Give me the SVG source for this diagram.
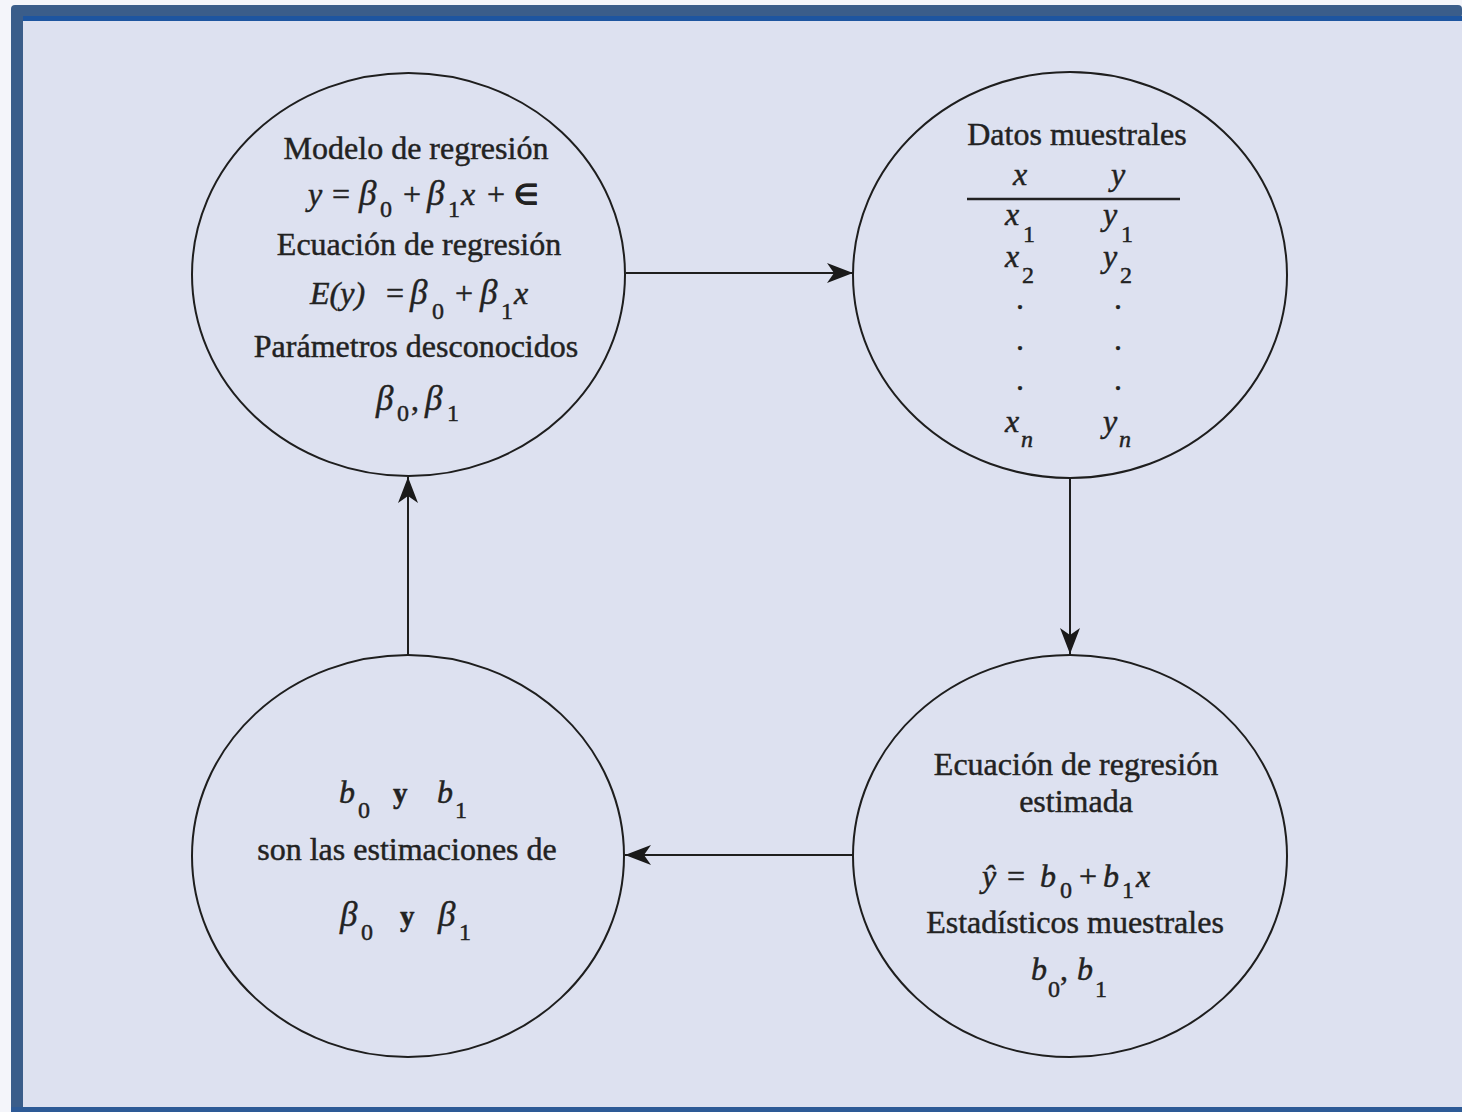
<svg xmlns="http://www.w3.org/2000/svg" width="1462" height="1112" viewBox="0 0 1462 1112">
<defs>
<marker id="arr" markerUnits="userSpaceOnUse" markerWidth="28" markerHeight="22" refX="26" refY="10" orient="auto">
<path d="M0,0 L26,10 L0,20 L7,10 z" fill="#1a1a1a"/>
</marker>
<style>
.t{font-family:"Liberation Serif","Times New Roman",serif;font-size:32px;fill:#222;stroke:#222;stroke-width:0.45px;}
.c{text-anchor:middle;}
.i{font-style:italic;}
.g{font-style:italic;font-size:35px;}
.s{font-size:24px;font-style:normal;}
.si{font-size:24px;font-style:italic;}
.b{font-weight:bold;}
.node{fill:none;stroke:#1e1e1e;stroke-width:2;}
.conn{stroke:#1e1e1e;stroke-width:2;fill:none;marker-end:url(#arr);}
</style>
</defs>
<rect x="0" y="0" width="1462" height="1112" fill="#f4f5fa"/>
<rect x="22" y="21" width="1440" height="1086" fill="#dde1f0"/>
<rect x="11" y="5" width="1451" height="13" rx="4" fill="#3a5d8a"/>
<rect x="20" y="16" width="1442" height="5" fill="#1d55a0"/>
<rect x="11" y="10" width="12" height="1102" fill="#3a5d8a"/>
<rect x="11" y="1107" width="1451" height="5" fill="#2d5a96"/>

<g id="connectors">
<line class="conn" x1="626" y1="273" x2="853" y2="273"/>
<line class="conn" x1="1070" y1="478" x2="1070" y2="654"/>
<line class="conn" x1="853" y1="855" x2="625" y2="855"/>
<line class="conn" x1="408" y1="655" x2="408" y2="477"/>
</g>

<g id="modelo">
<ellipse class="node" cx="408.5" cy="274.5" rx="216.5" ry="201.5"/>
<text class="t c" x="416" y="159">Modelo de regresión</text>
<text class="t i" x="308" y="205">y</text>
<text class="t" x="332" y="205">=</text>
<text class="t g" x="359" y="205">β</text>
<text class="t s" x="380" y="217">0</text>
<text class="t" x="403" y="205">+</text>
<text class="t g" x="427" y="205">β</text>
<text class="t s" x="448" y="217">1</text>
<text class="t i" x="461" y="205">x</text>
<text class="t" x="487" y="205">+</text>
<text class="t b" x="514" y="204" style="font-size:28px">∈</text>
<text class="t c" x="419" y="255">Ecuación de regresión</text>
<text class="t i" x="310" y="304">E(y)</text>
<text class="t" x="386" y="304">=</text>
<text class="t g" x="410" y="304">β</text>
<text class="t s" x="432" y="319">0</text>
<text class="t" x="455" y="304">+</text>
<text class="t g" x="480" y="304">β</text>
<text class="t s" x="501" y="319">1</text>
<text class="t i" x="514" y="304">x</text>
<text class="t c" x="416" y="357">Parámetros desconocidos</text>
<text class="t g" x="376" y="410">β</text>
<text class="t s" x="397" y="421">0</text>
<text class="t" x="411" y="410">,</text>
<text class="t g" x="425" y="410">β</text>
<text class="t s" x="447" y="421">1</text>
</g>

<g id="datos">
<ellipse class="node" cx="1070" cy="275" rx="217" ry="203"/>
<text class="t c" x="1077" y="145">Datos muestrales</text>
<text class="t i c" x="1020" y="185">x</text>
<text class="t i c" x="1118" y="185">y</text>
<line x1="967" y1="199" x2="1180" y2="199" stroke="#222" stroke-width="2.4"/>
<text class="t i" x="1005" y="225">x</text>
<text class="t s" x="1023" y="242">1</text>
<text class="t i" x="1103" y="225">y</text>
<text class="t s" x="1121" y="242">1</text>
<text class="t i" x="1005" y="267">x</text>
<text class="t s" x="1022" y="283">2</text>
<text class="t i" x="1103" y="267">y</text>
<text class="t s" x="1120" y="283">2</text>
<text class="t c" x="1020" y="309">.</text>
<text class="t c" x="1118" y="309">.</text>
<text class="t c" x="1020" y="350">.</text>
<text class="t c" x="1118" y="350">.</text>
<text class="t c" x="1020" y="390">.</text>
<text class="t c" x="1118" y="390">.</text>
<text class="t i" x="1005" y="432">x</text>
<text class="t si" x="1021" y="447">n</text>
<text class="t i" x="1103" y="432">y</text>
<text class="t si" x="1119" y="447">n</text>
</g>

<g id="ecuacion-estimada">
<ellipse class="node" cx="1070" cy="856" rx="217" ry="201"/>
<text class="t c" x="1076" y="775">Ecuación de regresión</text>
<text class="t c" x="1076" y="812">estimada</text>
<text class="t i" x="982" y="887">ŷ</text>
<text class="t" x="1007" y="887">=</text>
<text class="t i" x="1040" y="887">b</text>
<text class="t s" x="1060" y="898">0</text>
<text class="t" x="1079" y="887">+</text>
<text class="t i" x="1103" y="887">b</text>
<text class="t s" x="1122" y="898">1</text>
<text class="t i" x="1136" y="887">x</text>
<text class="t c" x="1075" y="933">Estadísticos muestrales</text>
<text class="t i" x="1031" y="980">b</text>
<text class="t s" x="1048" y="997">0</text>
<text class="t" x="1060" y="980">,</text>
<text class="t i" x="1077" y="980">b</text>
<text class="t s" x="1095" y="997">1</text>
</g>

<g id="estimaciones">
<ellipse class="node" cx="408" cy="856" rx="216" ry="201"/>
<text class="t i" x="339" y="803">b</text>
<text class="t s" x="358" y="818">0</text>
<text class="t b" x="393" y="803" style="font-size:29px">y</text>
<text class="t i" x="437" y="803">b</text>
<text class="t s" x="455" y="818">1</text>
<text class="t c" x="407" y="860">son las estimaciones de</text>
<text class="t g" x="340" y="926">β</text>
<text class="t s" x="361" y="940">0</text>
<text class="t b" x="400" y="926" style="font-size:29px">y</text>
<text class="t g" x="438" y="926">β</text>
<text class="t s" x="459" y="940">1</text>
</g>
</svg>
